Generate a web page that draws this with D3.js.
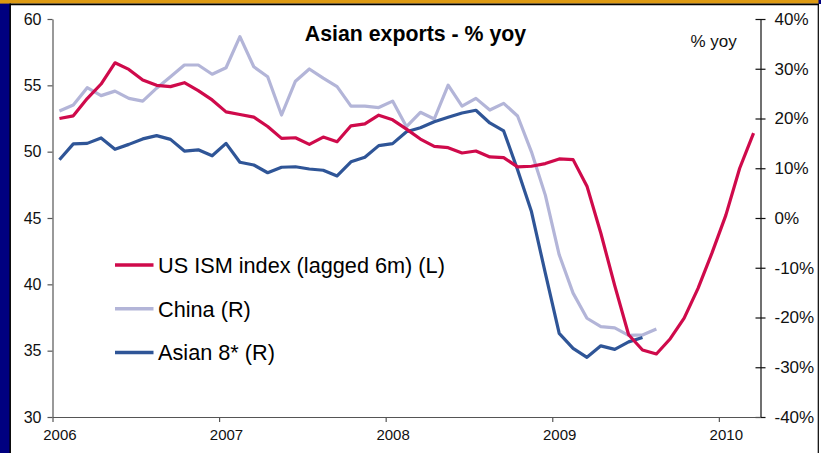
<!DOCTYPE html>
<html>
<head>
<meta charset="utf-8">
<script src="https://cdn.jsdelivr.net/npm/d3@7"></script>
<style>
  body { margin: 0; background: #fff; }
  svg { display: block; font-family: "Liberation Sans", Arial, sans-serif; }
  .axis text { fill: #111; }
</style>
</head>
<body>
<svg id="chart"></svg>
<script>
// Asian exports vs lagged US ISM, monthly Jan 2006 - Mar 2010

const months = d3.timeMonths(new Date(2006, 0, 1), new Date(2010, 3, 1)); // 51 categories
const yearLabels = ["2006", "2007", "2008", "2009", "2010"];
const leftTicks = [30, 35, 40, 45, 50, 55, 60];
const rightTicks = [-40, -30, -20, -10, 0, 10, 20, 30, 40];

// US ISM index (lagged 6m), left axis
const ism = [52.5, 52.7, 54.0, 55.1, 56.7, 56.2, 55.4, 55.0, 54.9, 55.2, 54.6, 53.9,
  53.0, 52.8, 52.6, 51.9, 51.0, 51.05, 50.55, 51.1, 50.75, 51.95, 52.1, 52.75,
  52.4, 51.7, 50.95, 50.4, 50.3, 49.9, 50.05, 49.6, 49.55, 48.85, 48.9, 49.1,
  49.45, 49.4, 47.4, 43.85, 39.9, 36.2, 35.05, 34.75, 35.9, 37.45, 39.7, 42.35,
  45.2, 48.75, 51.4];

// China exports % yoy, right axis
const china = [21.5, 22.7, 26.2, 24.6, 25.5, 24.05, 23.5, 26.1, 28.4, 30.75, 30.75, 28.9,
  30.2, 36.45, 30.4, 28.4, 20.7, 27.5, 29.95, 28.1, 26.4, 22.5, 22.5, 22.2,
  23.5, 18.35, 21.25, 19.9, 26.7, 22.5, 24.05, 21.7, 23.05, 20.5, 13.3, 4.6,
  -7.4, -15.1, -20.15, -21.85, -22.1, -23.6, -23.5, -22.3];

// Asian 8* exports % yoy, right axis
const asian8 = [11.7, 14.9, 15.0, 16.1, 13.8, 14.8, 15.9, 16.55, 15.8, 13.45, 13.7, 12.5,
  15.0, 11.2, 10.65, 9.1, 10.2, 10.3, 9.85, 9.6, 8.45, 11.3, 12.2, 14.55,
  14.95, 17.35, 18.15, 19.35, 20.25, 21.1, 21.65, 19.1, 17.5, 9.7, 1.3, -11.1,
  -23.2, -26.2, -28.0, -25.7, -26.4, -24.9, -24.0];

const W = 821, H = 453;
const m = { left: 52.5, right: 760.5, top: 19, bottom: 417 };

const svg = d3.select("#chart").attr("width", W).attr("height", H);

// frame
svg.append("rect").attr("width", W).attr("height", H).attr("fill", "#fff");
svg.append("rect").attr("x", 0).attr("y", 0).attr("width", 10).attr("height", H).attr("fill", "#000080");
svg.append("rect").attr("x", 0).attr("y", 0).attr("width", W).attr("height", 3.6).attr("fill", "#de9a12");
svg.append("rect").attr("x", 818.5).attr("y", 0).attr("width", 2.5).attr("height", 4).attr("fill", "#000080");
svg.append("line").attr("x1", 10.2).attr("x2", 10.2).attr("y1", 3.6).attr("y2", H).attr("stroke", "#000").attr("stroke-width", 1.5);
svg.append("line").attr("x1", 10).attr("x2", 819).attr("y1", 4.4).attr("y2", 4.4).attr("stroke", "#000").attr("stroke-width", 1.6);
svg.append("line").attr("x1", 818.3).attr("x2", 818.3).attr("y1", 4).attr("y2", H).attr("stroke", "#000").attr("stroke-width", 1.2);

const x = d3.scaleLinear().domain([0, months.length]).range([m.left, m.right]);
const yL = d3.scaleLinear().domain([30, 60]).range([m.bottom, m.top]);
const yR = d3.scaleLinear().domain([-40, 40]).range([m.bottom, m.top]);
const cx = (d, i) => x(i + 0.5);

// axes
const gL = svg.append("g").attr("class", "axis").attr("transform", `translate(${m.left},0)`)
  .call(d3.axisLeft(yL).tickValues(leftTicks).tickSize(5).tickSizeOuter(0).tickPadding(6));
gL.selectAll("text").attr("font-size", 16);
gL.selectAll("path, line").attr("stroke", "#555").attr("stroke-width", 1.2);

const gR = svg.append("g").attr("class", "axis").attr("transform", `translate(${m.right},0)`)
  .call(d3.axisRight(yR).tickValues(rightTicks).tickFormat(d => d + "%").tickSize(5).tickSizeOuter(0).tickPadding(9));
gR.selectAll(".tick line").attr("x1", -5).attr("x2", 5);
gR.selectAll("text").attr("font-size", 17);
gR.selectAll("path, line").attr("stroke", "#111").attr("stroke-width", 1.2);

const yearIdx = yearLabels.map((y, k) => k * 12);
const gB = svg.append("g").attr("class", "axis").attr("transform", `translate(0,${m.bottom})`)
  .call(d3.axisBottom(x).tickValues(yearIdx).tickFormat("").tickSize(5).tickSizeOuter(0));
gB.selectAll("path, line").attr("stroke", "#555").attr("stroke-width", 1.2);
const gB2 = svg.append("g").attr("class", "axis").attr("transform", `translate(0,${m.bottom})`)
  .call(d3.axisBottom(x).tickValues(yearIdx.map(v => v + 0.5)).tickFormat((d, k) => yearLabels[k]).tickSize(0).tickPadding(12));
gB2.select(".domain").remove();
gB2.selectAll("text").attr("font-size", 15);

// series
const series = [
  { name: "US ISM index (lagged 6m) (L)", values: ism, y: yL, color: "#cf0a4b" },
  { name: "China (R)", values: china, y: yR, color: "#b3b5d8" },
  { name: "Asian 8* (R)", values: asian8, y: yR, color: "#2f5597" }
];

[series[1], series[2], series[0]].forEach(s => {
  svg.append("path")
    .datum(s.values)
    .attr("fill", "none")
    .attr("stroke", s.color)
    .attr("stroke-width", 3.2)
    .attr("stroke-linejoin", "round")
    .attr("d", d3.line().x(cx).y(d => s.y(d)));
});

// title and unit
svg.append("text").attr("x", 415.5).attr("y", 40.5).attr("text-anchor", "middle")
  .attr("font-size", 21.3).attr("font-weight", "bold").attr("fill", "#000")
  .text("Asian exports - % yoy");
svg.append("text").attr("x", 690.5).attr("y", 46.5)
  .attr("font-size", 17).attr("fill", "#111").text("% yoy");

// legend
const leg = svg.append("g");
series.forEach((s, k) => {
  const ly = 265 + k * 43.7;
  leg.append("line").attr("x1", 115).attr("x2", 153.5).attr("y1", ly).attr("y2", ly)
    .attr("stroke", s.color).attr("stroke-width", 3.5);
  leg.append("text").attr("x", 158).attr("y", ly + 7.8)
    .attr("font-size", 21.7).attr("fill", "#000").text(s.name);
});
</script>
</body>
</html>
